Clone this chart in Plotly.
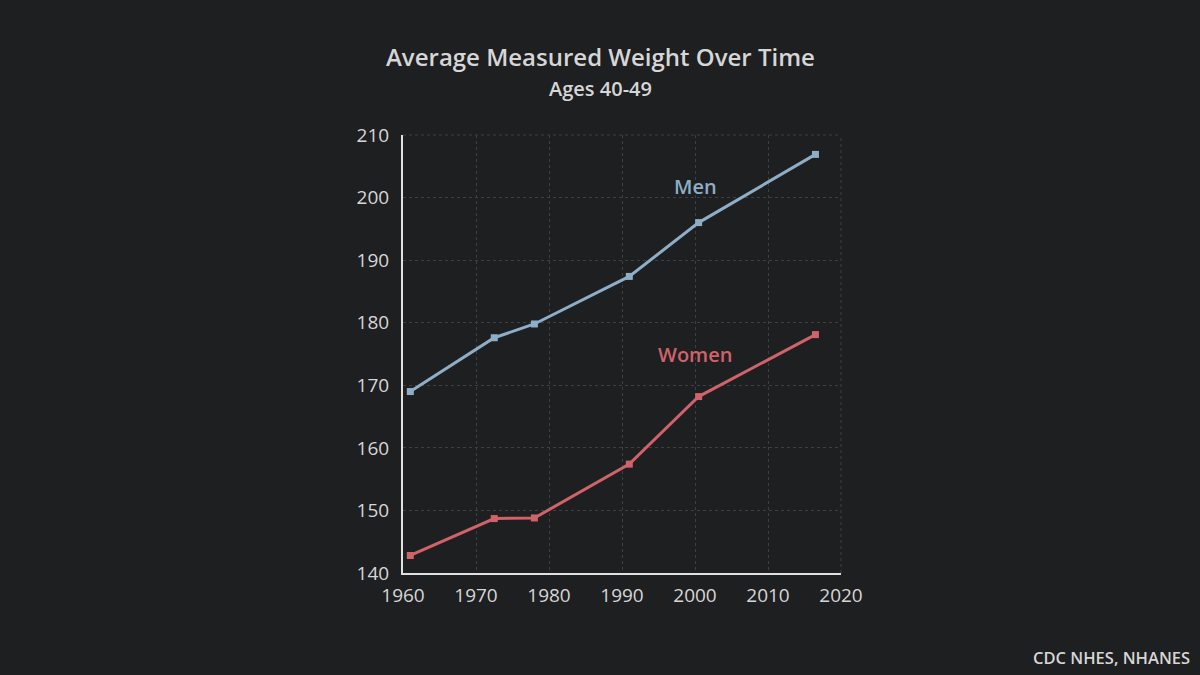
import plotly.graph_objects as go

years = [1961, 1972.5, 1978, 1991, 2000.5, 2016.5]
men = [169.0, 177.6, 179.8, 187.4, 196.0, 206.9]
women = [142.8, 148.7, 148.8, 157.4, 168.2, 178.1]
x_ticks = [1960, 1970, 1980, 1990, 2000, 2010, 2020]
y_ticks = [140, 150, 160, 170, 180, 190, 200, 210]

men_color = "#8eaec8"
women_color = "#cf6369"
bg = "#1e1f21"
text_color = "#d6d6d6"
grid_color = "#3e3f42"
font = "Open Sans"

fig = go.Figure()
fig.add_trace(go.Scatter(x=years, y=men, mode="lines+markers", name="Men",
                         line=dict(color=men_color, width=3),
                         marker=dict(symbol="square", size=7, color=men_color)))
fig.add_trace(go.Scatter(x=years, y=women, mode="lines+markers", name="Women",
                         line=dict(color=women_color, width=3),
                         marker=dict(symbol="square", size=7, color=women_color)))

fig.add_annotation(x=2000, y=201.7, text="Men", showarrow=False,
                   font=dict(family=font, size=20, color=men_color, weight=600))
fig.add_annotation(x=2000, y=174.9, text="Women", showarrow=False,
                   font=dict(family=font, size=20, color=women_color, weight=600))

# plot area: x 403..841, y 135..573 (pixels)
def px(xp):
    return (xp - 403) / 438

def py(yp):
    return (573 - yp) / 438

fig.add_annotation(text="Average Measured Weight Over Time", x=px(600), y=py(56),
                   xref="paper", yref="paper", showarrow=False, yanchor="middle",
                   font=dict(family=font, size=24, color=text_color, weight=600))
fig.add_annotation(text="Ages 40-49", x=px(600), y=py(88),
                   xref="paper", yref="paper", showarrow=False, yanchor="middle",
                   font=dict(family=font, size=20, color=text_color, weight=600))
fig.add_annotation(text="CDC NHES, NHANES", x=px(1192), y=py(657),
                   xref="paper", yref="paper", showarrow=False, xanchor="right",
                   yanchor="middle",
                   font=dict(family=font, size=16.5, color=text_color, weight=600))

fig.add_shape(type="line", xref="paper", yref="paper", x0=1, x1=1, y0=0, y1=1,
              line=dict(color=grid_color, width=1, dash="dot"))
fig.add_shape(type="line", xref="paper", yref="paper", x0=0, x1=1, y0=1, y1=1,
              line=dict(color=grid_color, width=1, dash="dot"))

fig.update_layout(
    width=1200, height=675,
    paper_bgcolor=bg, plot_bgcolor=bg,
    showlegend=False,
    margin=dict(l=403, r=359, t=135, b=102),
    font=dict(family=font, color=text_color, size=19),
    xaxis=dict(range=[1960, 2020], tickvals=x_ticks, showgrid=True,
               gridcolor=grid_color, griddash="dot", gridwidth=1,
               showline=True, linecolor="#e0e0e0", linewidth=2,
               zeroline=False, ticks="", ticklabelstandoff=4,
               tickfont=dict(size=19, color=text_color)),
    yaxis=dict(range=[140, 210], tickvals=y_ticks, showgrid=True,
               gridcolor=grid_color, griddash="dot", gridwidth=1,
               showline=True, linecolor="#e0e0e0", linewidth=2,
               zeroline=False, ticks="", ticklabelstandoff=8,
               tickfont=dict(size=19, color=text_color)),
)

fig.write_html("out.html", config={"displayModeBar": False},
               post_script="document.body.style.margin='0';document.body.style.background='%s';" % bg)
